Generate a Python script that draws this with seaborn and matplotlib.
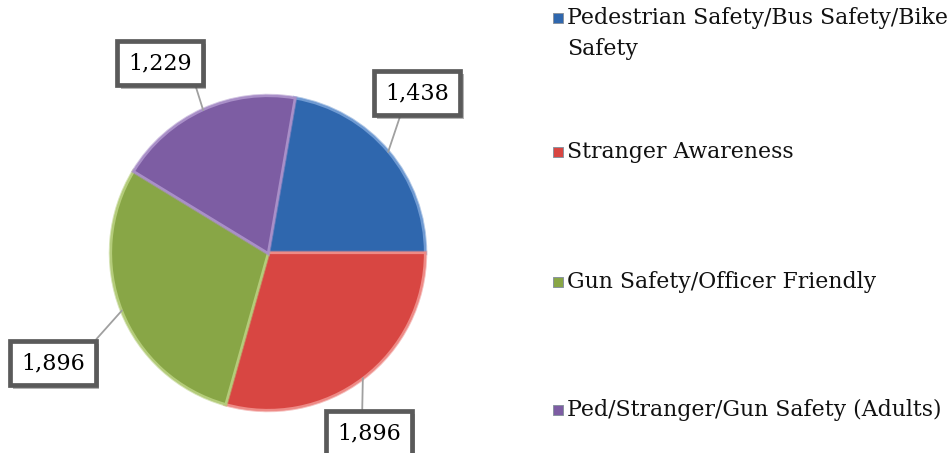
import numpy as np
import matplotlib
matplotlib.use("Agg")
import matplotlib.pyplot as plt
import matplotlib.patheffects as pe
from matplotlib.patches import Rectangle
import seaborn as sns

sns.set_theme(style="white")
plt.rcParams["font.family"] = ["DejaVu Serif"]

categories = [
    "Pedestrian Safety/Bus Safety/Bike\nSafety",
    "Stranger Awareness",
    "Gun Safety/Officer Friendly",
    "Ped/Stranger/Gun Safety (Adults)",
]
counts = [1438, 1896, 1896, 1229]
colors = ["#2F67AE", "#D84642", "#88A646", "#7D5DA3"]
edge_colors = ["#6F9AD2", "#EE8A86", "#B4CC7A", "#A98FC8"]

W, H = 951, 453
fig = plt.figure(figsize=(W / 100, H / 100), dpi=100)
ax = fig.add_axes([0, 0, 1, 1])

cx, cy, r = 268, 200, 157
total = sum(counts)
start = 360 * counts[0] / total

wedges, _ = ax.pie(
    counts, colors=colors, startangle=start, counterclock=False,
    center=(cx, cy), radius=r, frame=True,
    wedgeprops=dict(linewidth=1.6, edgecolor="white"),
)
ax.set_xlim(0, W)
ax.set_ylim(0, H)
ax.set_aspect("equal")
ax.axis("off")

# bevel: lighter rim stroke inside each slice
for w, ec in zip(wedges, edge_colors):
    w.set_edgecolor(ec)
    w.set_path_effects([
        pe.withStroke(linewidth=3.2, foreground=ec, alpha=0.55),
        pe.Normal(),
    ])

# value labels in framed boxes with leader lines
box_pos = [(417, 360), (369, 20), (53, 90), (160, 390)]
attach = [(0.3, 0.0), (0.39, 1.0), (1.0, 1.0), (1.0, 0.0)]
for w, val, (bx, by), rp in zip(wedges, counts, box_pos, attach):
    mid = np.deg2rad((w.theta1 + w.theta2) / 2)
    px, py = cx + r * np.cos(mid), cy + r * np.sin(mid)
    ann = ax.annotate(
        f"{val:,}", xy=(px, py), xytext=(bx, by),
        ha="center", va="center", fontsize=16, color="black",
        bbox=dict(boxstyle="square,pad=0.5", fc="white", ec="#5A5A5A", lw=3.4),
        arrowprops=dict(arrowstyle="-", color="#A0A0A0", lw=1.3,
                        shrinkA=0, shrinkB=0, relpos=rp),
        zorder=5,
    )
    ann.get_bbox_patch().set_path_effects([
        pe.SimplePatchShadow(offset=(2.5, -2.5), alpha=0.4, shadow_rgbFace="#444444"),
        pe.Normal(),
    ])

# legend on the right
leg_y = [435, 301, 171, 43]
for cat, c, ly in zip(categories, colors, leg_y):
    ax.add_patch(Rectangle((553, ly - 5), 10, 10, fc=c, ec="#8A94A0", lw=0.7))
    two_line = "\n" in cat
    ax.text(567, ly + 11 if two_line else ly, cat, ha="left",
            va="top" if two_line else "center",
            fontsize=15.8, linespacing=1.5, color="#111111")

fig.savefig("out.png", dpi=100)
